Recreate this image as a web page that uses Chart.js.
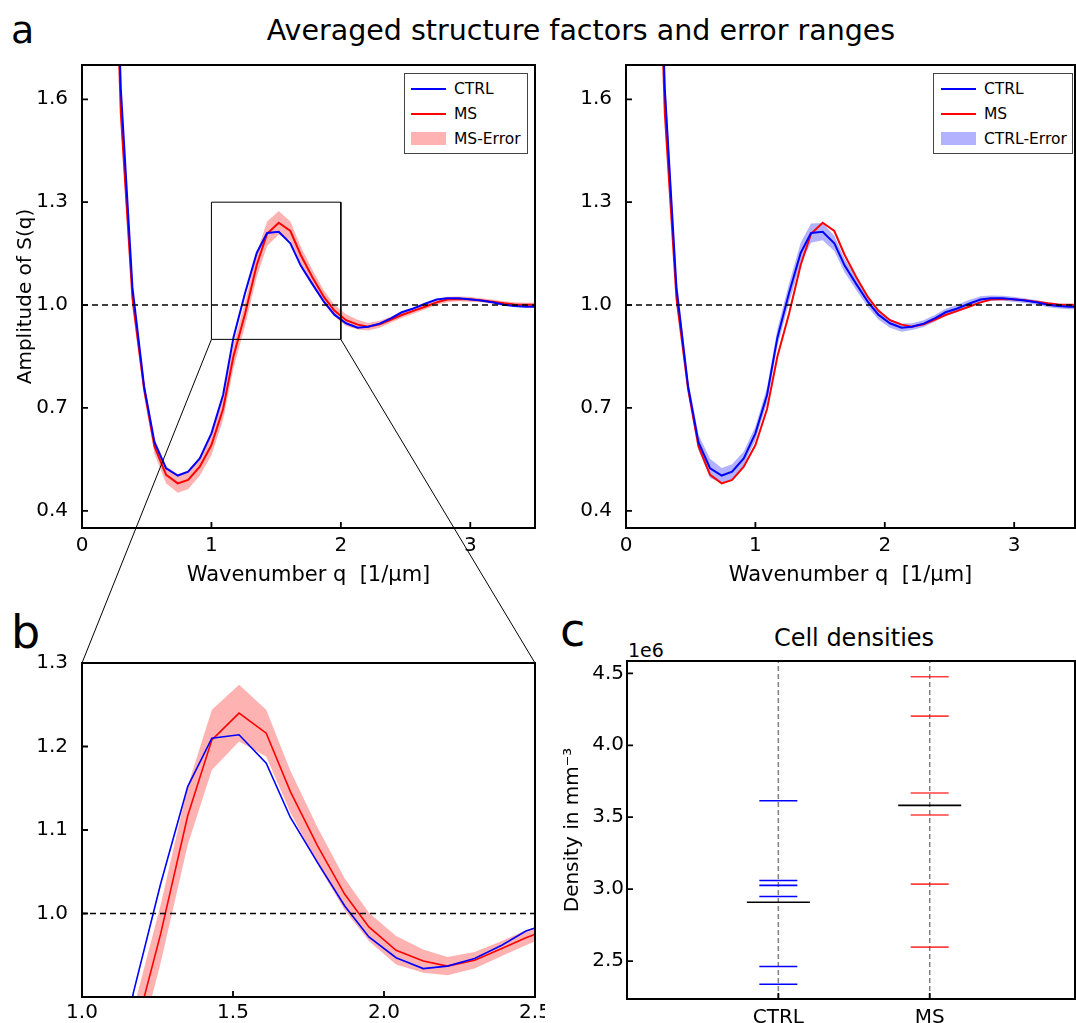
<!DOCTYPE html>
<html lang="en">
<head>
    <meta charset="UTF-8">
    <title>Averaged structure factors and error ranges</title>
    <script src="https://cdn.jsdelivr.net/npm/chart.js"></script>
    <style>
        body { margin: 0; width: 1076px; height: 1023px; overflow: hidden; background: #fff; position: relative;
               font-family: "DejaVu Sans", sans-serif; color: #000; }
        .pane { position: absolute; }
        .txt { position: absolute; white-space: pre; line-height: 1; }
        .legend { position: absolute; border: 1px solid #444; background: #fff; box-sizing: border-box; padding-top: 2px; font-size: 15.5px; }
        .legend .row { height: 25px; display: flex; align-items: center; padding-left: 6px; }
        .legend .ln { width: 35px; height: 2px; margin-right: 8px; }
        .legend .patch { width: 35px; height: 13px; margin-right: 8px; }
        #overlay { position: absolute; left: 0; top: 0; pointer-events: none; }
    </style>
</head>
<body>
    <div class="txt" style="left:11px;top:11px;font-size:38px">a</div>
    <div class="txt" style="left:581px;top:17px;font-size:28.5px;transform:translateX(-50%)">Averaged structure factors and error ranges</div>
    <div class="txt" style="left:11px;top:609px;font-size:46px">b</div>
    <div class="txt" style="left:560px;top:607px;font-size:46px">c</div>
    <div class="txt" style="left:854px;top:626px;font-size:24px;transform:translateX(-50%)">Cell densities</div>
    <div class="txt" style="left:628px;top:641px;font-size:19px">1e6</div>

    <canvas class="pane" id="chartA1" width="545" height="535" style="left:0;top:55px"></canvas>
    <canvas class="pane" id="chartA2" width="541" height="535" style="left:544px;top:55px"></canvas>
    <canvas class="pane" id="chartB" width="545" height="373" style="left:0;top:650px"></canvas>
    <canvas class="pane" id="chartC" width="541" height="413" style="left:544px;top:610px"></canvas>

    <div class="legend" style="left:404px;top:73px;width:124px;height:81px">
        <div class="row"><span class="ln" style="background:#0000ff"></span>CTRL</div>
        <div class="row"><span class="ln" style="background:#ff0000"></span>MS</div>
        <div class="row"><span class="patch" style="background:rgba(255,0,0,0.3)"></span>MS-Error</div>
    </div>
    <div class="legend" style="left:933px;top:73px;width:140px;height:81px">
        <div class="row" style="padding-left:7px"><span class="ln" style="background:#0000ff"></span>CTRL</div>
        <div class="row" style="padding-left:7px"><span class="ln" style="background:#ff0000"></span>MS</div>
        <div class="row" style="padding-left:7px"><span class="patch" style="background:rgba(0,0,255,0.3)"></span>CTRL-Error</div>
    </div>

    <canvas id="overlay" width="1076" height="1023"></canvas>

    <script>
        // wavenumber grid [1/um]
        const wavenumber = [0.04, 0.13, 0.22, 0.30, 0.39, 0.48, 0.56, 0.65, 0.74, 0.82,
                            0.91, 1.00, 1.09, 1.17, 1.26, 1.35, 1.43, 1.52, 1.61, 1.69,
                            1.78, 1.87, 1.95, 2.04, 2.13, 2.21, 2.30, 2.39, 2.47, 2.56,
                            2.65, 2.74, 2.82, 2.91, 2.99, 3.08, 3.17, 3.26, 3.34, 3.43, 3.52];
        const ctrlS = [5.20, 3.90, 2.60, 1.63, 1.05, 0.762, 0.600, 0.524, 0.503, 0.514,
                       0.553, 0.626, 0.738, 0.905, 1.035, 1.152, 1.210, 1.214, 1.180, 1.115,
                       1.061, 1.009, 0.972, 0.947, 0.934, 0.937, 0.946, 0.962, 0.979, 0.990,
                       1.004, 1.016, 1.020, 1.020, 1.017, 1.013, 1.008, 1.001, 0.997, 0.995, 0.995];
        const msS = [5.00, 3.80, 2.50, 1.56, 1.02, 0.755, 0.588, 0.505, 0.480, 0.490,
                     0.529, 0.592, 0.697, 0.850, 0.975, 1.117, 1.208, 1.240, 1.216, 1.146,
                     1.081, 1.023, 0.984, 0.956, 0.943, 0.937, 0.944, 0.958, 0.971, 0.983,
                     0.995, 1.008, 1.016, 1.018, 1.017, 1.014, 1.010, 1.005, 1.002, 1.001, 1.001];
        const ctrlErr = [0.04, 0.04, 0.04, 0.04, 0.03, 0.020, 0.022, 0.028, 0.022, 0.022,
                         0.020, 0.020, 0.022, 0.025, 0.028, 0.030, 0.028, 0.025, 0.022, 0.020,
                         0.018, 0.015, 0.014, 0.013, 0.012, 0.010, 0.010, 0.010, 0.010, 0.011,
                         0.011, 0.010, 0.008, 0.007, 0.007, 0.007, 0.007, 0.007, 0.007, 0.007, 0.007];
        const msErr = [0.04, 0.04, 0.04, 0.035, 0.03, 0.022, 0.022, 0.025, 0.027, 0.027,
                       0.027, 0.030, 0.032, 0.035, 0.035, 0.035, 0.036, 0.034, 0.028, 0.025,
                       0.022, 0.019, 0.017, 0.017, 0.014, 0.011, 0.010, 0.009, 0.009, 0.008,
                       0.008, 0.008, 0.008, 0.007, 0.007, 0.006, 0.006, 0.006, 0.006, 0.006, 0.006];
        const unityLevel = 1.0;
        const zoomQ = [1.0, 2.0];
        const zoomS = [0.9, 1.3];

        const qTicksA = [0, 1, 2, 3];
        const sTicksA = [0.4, 0.7, 1.0, 1.3, 1.6];
        const qTicksB = [1.0, 1.5, 2.0, 2.5];
        const sTicksB = [1.0, 1.1, 1.2, 1.3];

        // cell densities [1/mm^3]
        const groups = ['CTRL', 'MS'];
        const ctrlDensity = [3.614e6, 3.060e6, 3.026e6, 2.949e6, 2.462e6, 2.339e6];
        const msDensity = [4.477e6, 4.203e6, 3.668e6, 3.515e6, 3.035e6, 2.597e6];
        const densityTicks = [2.5e6, 3.0e6, 3.5e6, 4.0e6, 4.5e6];
        const densityRange = [2.236e6, 4.586e6];

        const BLUE = '#0000ff', RED = '#ff0000';
        Chart.defaults.font.family = '"DejaVu Sans", sans-serif';
        Chart.defaults.color = '#000';

        // matplotlib style: box frame and inward ticks
        const frameTicks = {
            id: 'frameTicks',
            afterDraw(chart) {
                const { ctx, chartArea: a, scales } = chart;
                ctx.save();
                ctx.strokeStyle = '#000';
                ctx.lineWidth = 1.8;
                ctx.beginPath();
                scales.x.ticks.forEach(t => {
                    const px = scales.x.getPixelForValue(t.value);
                    ctx.moveTo(px, a.bottom); ctx.lineTo(px, a.bottom - 6);
                });
                scales.y.ticks.forEach(t => {
                    const py = scales.y.getPixelForValue(t.value);
                    ctx.moveTo(a.left, py); ctx.lineTo(a.left + 6, py);
                });
                ctx.stroke();
                ctx.lineWidth = 2;
                ctx.strokeRect(a.left, a.top, a.right - a.left, a.bottom - a.top);
                ctx.restore();
            }
        };

        function axis(min, max, tickList, fmt, size, pad, title) {
            return {
                type: 'linear', min: min, max: max,
                grid: { display: false, drawTicks: false }, border: { display: false },
                afterBuildTicks: s => { s.ticks = tickList.map(v => ({ value: v })); },
                afterFit: s => {
                    if (s.isHorizontal()) s.height = size; else s.width = size;
                    s.paddingTop = s.paddingBottom = s.paddingLeft = s.paddingRight = 0;
                },
                ticks: { callback: fmt, font: { size: 20 }, padding: pad, maxRotation: 0, autoSkip: false },
                title: title || { display: false }
            };
        }

        const pts = ys => wavenumber.map((q, i) => ({ x: q, y: ys[i] }));
        const edge = (ys, err, sign) => wavenumber.map((q, i) => ({ x: q, y: ys[i] + sign * err[i] }));
        const hline = (y, x0, x1) => [{ x: x0, y: y }, { x: x1, y: y }];
        const fix1 = v => v.toFixed(1);

        function curveSets(errOf, errVals, errColor, lw, withBox) {
            const sets = [
                { data: hline(unityLevel, 0, 4), borderColor: '#000', borderWidth: 1.5, borderDash: [6, 4], order: 0 },
                { data: pts(ctrlS), borderColor: BLUE, borderWidth: lw, order: 2 },
                { data: pts(msS), borderColor: RED, borderWidth: lw, order: 3 },
                { data: edge(errOf, errVals, 1), borderColor: 'transparent', borderWidth: 0, fill: false, order: 6 },
                { data: edge(errOf, errVals, -1), borderColor: 'transparent', borderWidth: 0, fill: '-1', backgroundColor: errColor, order: 5 }
            ];
            if (withBox) {
                sets.push({ data: [{ x: zoomQ[0], y: zoomS[0] }, { x: zoomQ[0], y: zoomS[1] }, { x: zoomQ[1], y: zoomS[1] },
                                   { x: zoomQ[1], y: zoomS[0] }, { x: zoomQ[0], y: zoomS[0] }],
                            borderColor: '#000', borderWidth: 1, order: 1 });
            }
            return sets;
        }

        function lineChart(id, datasets, xAxis, yAxis, padding) {
            return new Chart(document.getElementById(id), {
                type: 'line',
                data: { datasets: datasets },
                options: {
                    responsive: false, animation: false,
                    layout: { padding: padding, autoPadding: false },
                    elements: { point: { radius: 0 }, line: { tension: 0 } },
                    plugins: { legend: { display: false }, tooltip: { enabled: false } },
                    scales: { x: xAxis, y: yAxis }
                },
                plugins: [frameTicks]
            });
        }

        const qTitle = { display: true, text: 'Wavenumber q  [1/\u03bcm]', font: { size: 21 }, padding: { top: 0, bottom: 2 } };

        const chartA1 = lineChart('chartA1',
            curveSets(msS, msErr, 'rgba(255,0,0,0.3)', 2, true),
            axis(0, 3.5, qTicksA, v => String(v), 62, 6, qTitle),
            axis(0.35, 1.70, sTicksA, fix1, 82, 14,
                 { display: true, text: 'Amplitude of S(q)', font: { size: 20 }, padding: { top: 14, bottom: 0 } }),
            { top: 10, right: 10, left: 0, bottom: 0 });

        const chartA2 = lineChart('chartA2',
            curveSets(ctrlS, ctrlErr, 'rgba(0,0,255,0.3)', 2, false),
            axis(0, 3.47, qTicksA, v => String(v), 62, 6, qTitle),
            axis(0.35, 1.70, sTicksA, fix1, 82, 14),
            { top: 10, right: 10, left: 0, bottom: 0 });

        const chartB = lineChart('chartB',
            curveSets(msS, msErr, 'rgba(255,0,0,0.3)', 1.6, false),
            axis(1.0, 2.5, qTicksB, fix1, 26, 4),
            axis(0.9, 1.3, sTicksB, fix1, 82, 14),
            { top: 13, right: 10, left: 0, bottom: 0 });

        // cell densities: one short bar per sample, long black bar at the mean
        const mean = arr => arr.reduce((s, v) => s + v, 0) / arr.length;
        const samples = (vals, gi) => vals.map(v => ({ x: gi, y: v }));
        const vline = gi => [{ x: gi, y: densityRange[0] }, { x: gi, y: densityRange[1] }];
        const marks = (data, color, r, order) => ({
            data: data, showLine: false, pointStyle: 'line', pointRadius: r, pointHoverRadius: r,
            pointBorderColor: color, pointBorderWidth: 1.6, borderColor: color, order: order
        });

        const chartC = new Chart(document.getElementById('chartC'), {
            type: 'scatter',
            data: {
                datasets: [
                    { data: vline(0), showLine: true, pointRadius: 0, borderColor: '#808080', borderWidth: 1.5, borderDash: [5, 3], order: 5 },
                    { data: vline(1), showLine: true, pointRadius: 0, borderColor: '#808080', borderWidth: 1.5, borderDash: [5, 3], order: 5 },
                    marks(samples(ctrlDensity, 0), BLUE, 19, 2),
                    marks(samples(msDensity, 1), 'rgba(255,0,0,0.75)', 19, 2),
                    marks([{ x: 0, y: mean(ctrlDensity) }, { x: 1, y: mean(msDensity) }], '#000', 31.5, 1)
                ]
            },
            options: {
                responsive: false, animation: false,
                layout: { padding: { top: 51, right: 10, left: 0, bottom: 0 }, autoPadding: false },
                plugins: { legend: { display: false }, tooltip: { enabled: false } },
                scales: {
                    x: axis(-1, 1.96, [0, 1], v => groups[v], 24, 7),
                    y: axis(densityRange[0], densityRange[1], densityTicks, v => (v / 1e6).toFixed(1), 83, 3,
                            { display: true, text: 'Density in mm\u207b\u00b3', font: { size: 20 }, padding: { top: 17, bottom: 0 } })
                }
            },
            plugins: [frameTicks]
        });

        // connector lines from the zoom box in panel a to panel b
        const ov = document.getElementById('overlay').getContext('2d');
        const off = c => ({ x: c.canvas.offsetLeft, y: c.canvas.offsetTop });
        const oa = off(chartA1), ob = off(chartB);
        const boxY = oa.y + chartA1.scales.y.getPixelForValue(zoomS[0]);
        ov.strokeStyle = '#000';
        ov.lineWidth = 1;
        ov.beginPath();
        ov.moveTo(oa.x + chartA1.scales.x.getPixelForValue(zoomQ[0]), boxY);
        ov.lineTo(ob.x + chartB.chartArea.left, ob.y + chartB.chartArea.top);
        ov.moveTo(oa.x + chartA1.scales.x.getPixelForValue(zoomQ[1]), boxY);
        ov.lineTo(ob.x + chartB.chartArea.right, ob.y + chartB.chartArea.top);
        ov.stroke();
    </script>
</body>
</html>
